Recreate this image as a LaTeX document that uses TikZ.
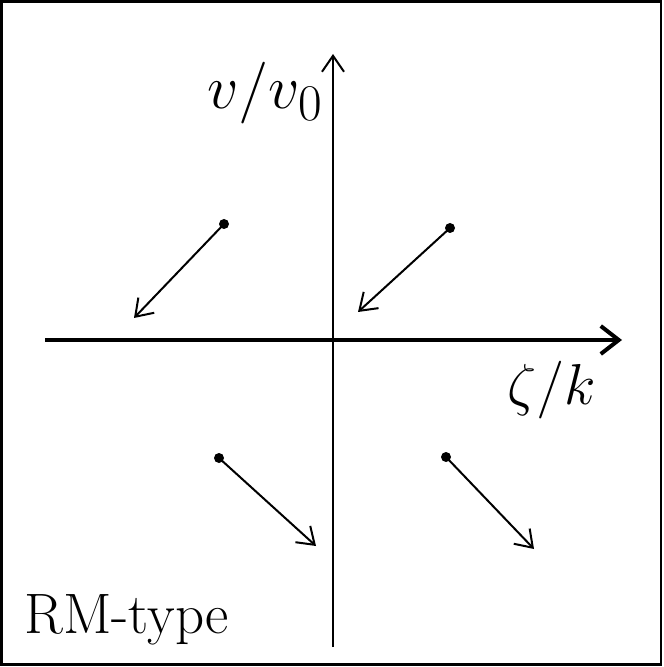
\documentclass[tikz,border=0pt]{standalone}
\usetikzlibrary{arrows.meta}
\begin{document}
\begin{tikzpicture}[x=0.5pt,y=-0.5pt,
  frame/.style={draw=black,line width=1.2pt},
  xaxis/.style={line width=2pt,-{Straight Barb[length=9pt,width=14pt,line width=2pt]}},
  yaxis/.style={line width=1pt,-{Straight Barb[length=8pt,width=11pt,line width=1pt]}},
  vec/.style={line width=1pt,-{Straight Barb[length=8pt,width=11pt,line width=1pt]}},
  dot/.style={circle,fill=black,inner sep=0pt,minimum size=5pt},
  lbl/.style={font=\fontsize{24.88}{30}\selectfont,inner sep=0pt},
  tag/.style={font=\fontsize{28.5}{33}\selectfont,inner sep=0pt,anchor=south west}]
\useasboundingbox (0,0) rectangle (663,667);
\draw[frame] (1.5,1.5) rectangle (661,664.5);
% axes
\coordinate (xL) at (45,340);
\coordinate (xR) at (622,340);
\coordinate (yB) at (333,647);
\coordinate (yT) at (333,54);
\draw[xaxis] (xL) -- (xR);
\draw[yaxis] (yB) -- (yT);
% labels
\node[lbl] (vlab) at (265,93) {\scalebox{1.24}{$v/v_0$}};
\node[lbl] (zlab) at (552,390) {\scalebox{1.16}{$\zeta/k$}};
\node[tag] (tlab) at (24,645) {RM-type};
% vectors
\node[dot] (d1) at (224,224) {};
\coordinate (t1) at (134,318);
\node[dot] (d2) at (450,228) {};
\coordinate (t2) at (358,312);
\node[dot] (d3) at (219,458) {};
\coordinate (t3) at (316,546);
\node[dot] (d4) at (446,457) {};
\coordinate (t4) at (534,549);
\draw[vec] (d1.center) -- (t1);
\draw[vec] (d2.center) -- (t2);
\draw[vec] (d3.center) -- (t3);
\draw[vec] (d4.center) -- (t4);
\end{tikzpicture}
\end{document}
